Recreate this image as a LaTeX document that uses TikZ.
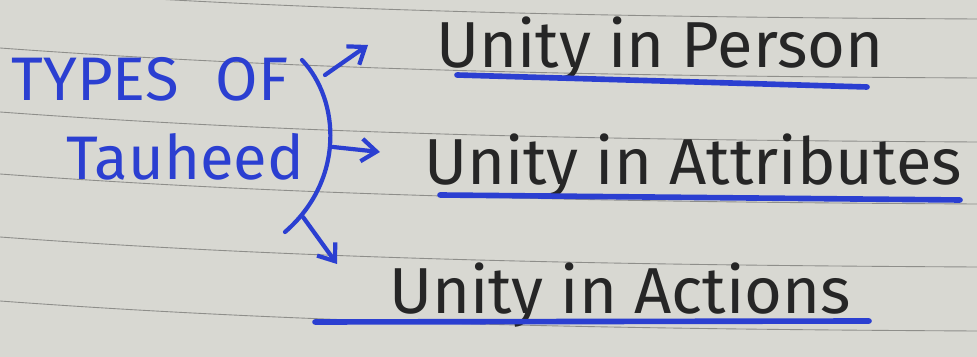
\documentclass[tikz,border=0pt]{standalone}
\usepackage{fontspec}
\setmainfont{Fira Sans}
\usetikzlibrary{arrows.meta}
\definecolor{ink}{HTML}{2B3FD1}
\definecolor{pen}{HTML}{262626}
\definecolor{paper}{HTML}{D8D8D2}
\definecolor{rulegray}{HTML}{8E8E8A}
\tikzset{
    title/.style={text=ink, font=\fontsize{35}{35}\selectfont, inner sep=0pt},
    item/.style={text=pen, font=\fontsize{37}{37}\selectfont, inner sep=0pt, anchor=base},
    uline/.style={draw=ink, line width=3.2pt, line cap=round},
    arr/.style={-{Straight Barb[length=3mm, width=4.5mm]}, draw=ink, line width=2.4pt, line cap=round}
}

\begin{document}
\begin{tikzpicture}[x=0.02cm, y=-0.02cm]
        % --- Paper ---
        \fill [paper] (0,0) rectangle (977,357);
        \useasboundingbox (0,0) rectangle (977,357);
        \foreach \y in {-11,48,112,174,237,301} {
            \draw [rulegray, line width=0.5pt] (0,\y) .. controls (300,\y+22) and (600,\y+28) .. (977,\y+30);
        }

        % --- Nodes ---
        \node [title] (types)   at (150,79)  {TYPES\hspace{0.6em}OF};
        \node [title] (tauheed) at (185,157) {Tauheed};
        \node [item]  (person)  at (660,68)  {Unity in Person};
        \node [item]  (attrib)  at (693,185) {Unity in Attributes};
        \node [item]  (actions) at (620,314) {Unity in Actions};

        % --- Bracket ---
        \coordinate (btop) at (302,60);
        \coordinate (bbot) at (285,232);
        \draw [draw=ink, line width=2.4pt, line cap=round] (btop) .. controls (340,100) and (345,180) .. (bbot);

        % --- Arrows ---
        \coordinate (a1) at (325,75);  \coordinate (e1) at (368,45);
        \coordinate (a2) at (333,147); \coordinate (e2) at (380,152);
        \coordinate (a3) at (303,217); \coordinate (e3) at (337,264);
        \draw [arr] (a1) -- (e1);
        \draw [arr] (a2) -- (e2);
        \draw [arr] (a3) -- (e3);

        % --- Underlines ---
        \draw [uline] (457,75)  -- (867,87);
        \draw [uline] (440,195) -- (960,200);
        \draw [uline] (315,322) -- (869,321);

    \end{tikzpicture}
\end{document}
